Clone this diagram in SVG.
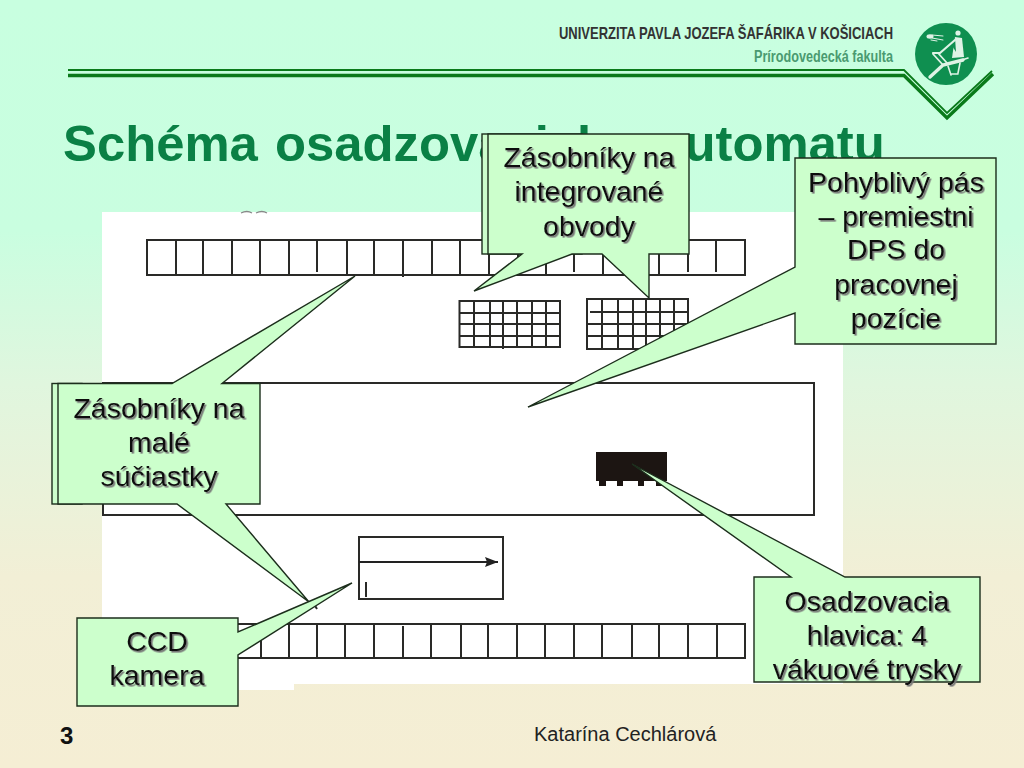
<svg xmlns="http://www.w3.org/2000/svg" width="1024" height="768" viewBox="0 0 1024 768">
<style>
.ln{fill:none;stroke:#2a2a28;stroke-width:2}
.co{fill:#ccffcc;stroke:#1c2e1c;stroke-width:1.4;stroke-linejoin:miter}
.lb{font-family:"Liberation Sans",Arial,sans-serif;font-size:28.500px;fill:#111;text-anchor:middle;filter:url(#sh)}
.hd{font-family:"Liberation Sans",Arial,sans-serif;font-weight:bold}
</style>
<defs>
<linearGradient id="bg" x1="0" y1="0" x2="0" y2="1">
<stop offset="0" stop-color="#c8ffe0"/><stop offset="0.3" stop-color="#c9fee0"/><stop offset="0.5" stop-color="#e0f6de"/><stop offset="0.75" stop-color="#f2efd6"/><stop offset="1" stop-color="#f5eed4"/>
</linearGradient>
<filter id="sh" x="-10%" y="-20%" width="120%" height="140%"><feDropShadow dx="1.6" dy="1.6" stdDeviation="0.7" flood-color="#777"/></filter>
<marker id="ah" markerUnits="userSpaceOnUse" markerWidth="14" markerHeight="10" refX="13" refY="5" orient="auto"><path d="M0 0L13 5L0 10L2 5Z" fill="#222"/></marker>
</defs>
<rect width="1024" height="768" fill="url(#bg)"/>

<g id="header">
<text class="hd" x="559" y="39" font-size="17" fill="#333" textLength="334" lengthAdjust="spacingAndGlyphs">UNIVERZITA PAVLA JOZEFA ŠAFÁRIKA V KOŠICIACH</text>
<text class="hd" x="754" y="62" font-size="16" fill="#4a9a70" textLength="139" lengthAdjust="spacingAndGlyphs">Prírodovedecká fakulta</text>
<path d="M68 70H904L947 113L992 71" fill="none" stroke="#0a7a1a" stroke-width="1.8"/>
<path d="M68 75.500H904L947 118L993 74" fill="none" stroke="#0a7a1a" stroke-width="3.400"/>
<circle cx="946" cy="54" r="31" fill="#0f8f50"/>
<g fill="#dff3e6" stroke="none">
<ellipse cx="930" cy="36.500" rx="3.500" ry="2.200"/>
<circle cx="958" cy="33" r="2.600"/>
<path d="M955 37L962 38L964 57L952 58Z"/>
</g>
<path d="M955 38L951 44L956 52Z" fill="#0f8f50"/>
<g fill="none" stroke="#dff3e6" stroke-linecap="round">
<path d="M932 35l11 1M932 38l11 2M931 40l6 1" stroke-width="1"/>
<path d="M955 40L940 53H933" stroke-width="2.200"/>
<path d="M933 54L943 65M938 53L947 63" stroke-width="1.800"/>
<path d="M963 60L943 65L930 77" stroke-width="3.400"/>
<path d="M948 66L951 75M960 63L958 73M951 74H958M962 60L968 58" stroke-width="1.600"/>
</g>
</g>

<text id="title" x="63" y="161" font-family="'Liberation Sans',Arial,sans-serif" font-weight="bold" font-size="50.800" fill="#0a8045" word-spacing="3">Schéma osadzovacieho automatu</text>

<g id="scheme">
<path d="M102 212H843V684H294V690H102Z" fill="#fff"/>
<path d="M241 213q6-3 11 0M256 213q6-3 11 0" fill="none" stroke="#888" stroke-width="1.300"/>
<path id="row-top" class="ln" d="M147 240H745V275H147ZM176 240V275M203 240V275M232 241V275M260 240V275M289 240V275M317 241V272M347 240V275M374 240V275M403 240V277M432 240V275M460 240V275M489 240V275M518 240V275M546 240V275M574 240V272M603 240V275M631 240V275M659 240V275M688 240V272M716 240V272"/>
<path id="row-bottom" class="ln" d="M147 624H745V658H147ZM176 624V658M203 624V658M232 624V658M261 624V658M289 624V658M317 624V658M345 624V658M374 624V658M403 626V658M431 624V658M461 624V658M488 624V658M517 624V658M545 624V658M574 624V658M602 624V658M632 624V658M659 624V658M688 624V658M717 624V658"/>
<path id="grid-left" class="ln" d="M459.500 301H560V347H459.500ZM474 301V347M490 301V347M503 300V349M517 301V347M532 301V347M546 301V347M459 313H560M459 324H560M459 336H560"/>
<path id="grid-right" class="ln" d="M587 299H688V349H587ZM602 299V349M618 299V349M633 299V349M646 299V349M660 299V349M674 299V349M590 312H688M587 324H688M587 336H688"/>
<rect id="carrier" class="ln" x="103" y="383" width="711" height="132"/>
<rect id="camera-box" class="ln" x="359" y="537" width="144" height="62"/>
<path class="ln" stroke-width="1.500" d="M366 582V597M314 604L317 609"/>
<g id="chip" fill="#1c1512">
<rect x="596" y="452" width="71" height="29"/>
<rect x="599" y="481" width="7" height="5"/><rect x="617" y="481" width="6" height="5"/><rect x="638" y="481" width="6" height="5"/><rect x="656" y="481" width="6" height="5"/>
</g>
</g>

<g id="connectors">
<path d="M359 562H498" fill="none" stroke="#222" stroke-width="2" marker-end="url(#ah)"/>
</g>

<g id="node-ic">
<rect class="co" x="482" y="134" width="100" height="120"/>
<path class="co" d="M488 134H689V254H649V298L602 254H572L474 291L522 254H488Z"/>
<text class="lb" x="589" y="167">Zásobníky na</text>
<text class="lb" x="589" y="201">integrované</text>
<text class="lb" x="589" y="236">obvody</text>
</g>

<g id="node-belt">
<path class="co" d="M795 158H996V344H795V313L528 407L795 267Z"/>
<text class="lb" x="896" y="192">Pohyblivý pás</text>
<text class="lb" x="896" y="226">– premiestni</text>
<text class="lb" x="896" y="259">DPS do</text>
<text class="lb" x="896" y="294">pracovnej</text>
<text class="lb" x="896" y="328">pozície</text>
</g>

<g id="node-small">
<rect class="co" x="52" y="383.500" width="30" height="120.500"/>
<path class="co" d="M58 383.500H172L355 276L222 383.500H260V504H226L309 602L177 504H58Z"/>
<text class="lb" x="159" y="418">Zásobníky na</text>
<text class="lb" x="159" y="452">malé</text>
<text class="lb" x="159" y="486">súčiastky</text>
</g>

<g id="node-ccd">
<path class="co" d="M77 618H238V632L352 583L238 655V706H77Z"/>
<text class="lb" x="157" y="651">CCD</text>
<text class="lb" x="157" y="685">kamera</text>
</g>

<g id="node-head">
<path class="co" d="M754 577H791L632 464L845 577H980V682H754Z"/>
<text class="lb" x="867" y="611">Osadzovacia</text>
<text class="lb" x="867" y="645">hlavica: 4</text>
<text class="lb" x="867" y="679">vákuové trysky</text>
</g>

<g id="footer">
<text class="hd" x="60" y="744" font-size="24" fill="#111">3</text>
<text x="534" y="741" font-family="'Liberation Sans',Arial,sans-serif" font-size="20" fill="#222">Katarína Cechlárová</text>
</g>
</svg>
